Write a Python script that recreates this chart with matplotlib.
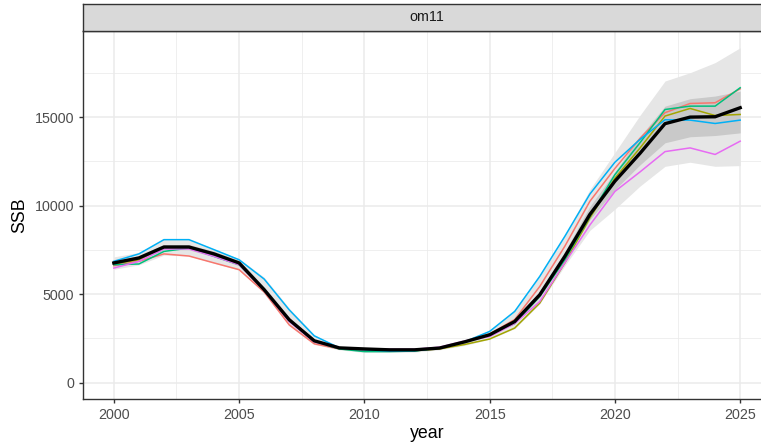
import matplotlib
matplotlib.use('Agg')
import matplotlib.pyplot as plt
from matplotlib.ticker import MultipleLocator

plt.rcParams['font.family'] = ['Liberation Sans', 'DejaVu Sans']

# SSB by year for om11: single iterations, median and quantile bands
years = list(range(2000, 2026))

iter_red = [6600, 6850, 7270, 7150, 6760, 6380, 5120, 3260, 2190, 1900, 1800, 1780, 1800,
            1950, 2300, 2750, 3560, 5430, 7700, 10240, 12100, 13800, 15250, 15770, 15810, 16600]
iter_olive = [6700, 6940, 7660, 7660, 7200, 6700, 5200, 3500, 2330, 1950, 1870, 1800, 1800,
              1900, 2150, 2460, 3080, 4490, 6760, 9300, 11550, 13250, 15060, 15490, 15090, 15150]
iter_green = [6660, 6700, 7410, 7600, 7130, 6660, 5250, 3500, 2330, 1900, 1750, 1750, 1780,
              1950, 2300, 2700, 3340, 4870, 6940, 9400, 11750, 13550, 15430, 15620, 15620, 16660]
iter_blue = [6850, 7270, 8075, 8075, 7510, 6940, 5850, 4110, 2640, 1960, 1850, 1780, 1800,
             1950, 2300, 2890, 4020, 6000, 8260, 10650, 12450, 13740, 14850, 14830, 14640, 14830]
iter_magenta = [6470, 6850, 7550, 7550, 7130, 6660, 5200, 3450, 2300, 1950, 1900, 1880, 1880,
                2000, 2350, 2600, 3340, 4580, 6760, 8900, 10800, 11900, 13050, 13260, 12890, 13640]
median = [6760, 7040, 7660, 7660, 7270, 6760, 5250, 3550, 2360, 1960, 1900, 1850, 1850,
          1950, 2300, 2700, 3450, 4960, 7130, 9500, 11380, 12950, 14630, 15000, 15020, 15530]

outer_lo = [6400, 6650, 7200, 7150, 6750, 6350, 5050, 3200, 2150, 1850, 1700, 1700, 1720,
            1850, 2100, 2450, 3050, 4450, 6600, 8600, 9800, 11100, 12220, 12450, 12220, 12260]
outer_hi = [7100, 7350, 8100, 8100, 7550, 7000, 5950, 4200, 2700, 2000, 1950, 1930, 1930,
            2050, 2400, 2950, 4100, 6100, 8350, 10900, 13000, 15100, 17040, 17510, 18080, 18920]
inner_lo = [6620, 6880, 7500, 7500, 7100, 6600, 5150, 3420, 2280, 1910, 1820, 1790, 1800,
            1910, 2240, 2620, 3330, 4800, 6900, 9200, 10900, 12300, 13550, 13890, 13960, 14110]
inner_hi = [6900, 7180, 7800, 7800, 7420, 6900, 5400, 3700, 2440, 1990, 1910, 1880, 1880,
            2000, 2360, 2800, 3600, 5150, 7400, 9950, 11900, 13900, 15620, 16040, 16190, 16470]

iterations = [iter_red, iter_olive, iter_green, iter_blue, iter_magenta]
iter_colors = ['#F8766D', '#A3A500', '#00BF7D', '#00B0F6', '#E76BF3']

fig = plt.figure(figsize=(7.61, 4.46), dpi=100)
ax = fig.add_axes([82.5 / 761, 1 - 399.3 / 446, 689 / 761, 368.3 / 446])

# quantile bands
ax.fill_between(years, outer_lo, outer_hi, color='#E6E6E6', lw=0, zorder=2)
ax.fill_between(years, inner_lo, inner_hi, color='#C9C9C9', lw=0, zorder=3)

for vals, col in zip(iterations, iter_colors):
    ax.plot(years, vals, color=col, lw=1.1, zorder=4)
ax.plot(years, median, color='black', lw=2.4, zorder=5)

ax.set_xlim(1998.75, 2026.25)
ax.set_ylim(-946, 19866)
ax.xaxis.set_major_locator(MultipleLocator(5))
ax.xaxis.set_minor_locator(MultipleLocator(2.5))
ax.yaxis.set_major_locator(MultipleLocator(5000))
ax.yaxis.set_minor_locator(MultipleLocator(2500))
ax.grid(which='major', color='#EBEBEB', lw=1.1, zorder=0)
ax.grid(which='minor', color='#EBEBEB', lw=0.55, zorder=0)
ax.set_axisbelow(True)

for s in ax.spines.values():
    s.set_color('#333333')
    s.set_linewidth(1.0)
ax.tick_params(which='major', length=3.2, width=1.0, color='#333333',
               labelsize=10.3, labelcolor='#4D4D4D', pad=2.8)
ax.tick_params(which='minor', length=0)

ax.set_xlabel('year', fontsize=12.8, color='black', labelpad=2.5)
ax.set_ylabel('SSB', fontsize=12.8, color='black', labelpad=4.5)

# facet strip
strip = fig.add_axes([82.5 / 761, 1 - 31 / 446, 689 / 761, 27.3 / 446])
strip.set_facecolor('#D9D9D9')
strip.set_xticks([])
strip.set_yticks([])
for s in strip.spines.values():
    s.set_color('#333333')
    s.set_linewidth(1.0)
strip.text(0.5, 0.5, 'om11', ha='center', va='center', fontsize=10.3, color='#1A1A1A',
           transform=strip.transAxes)

fig.savefig('out.png', dpi=100)
